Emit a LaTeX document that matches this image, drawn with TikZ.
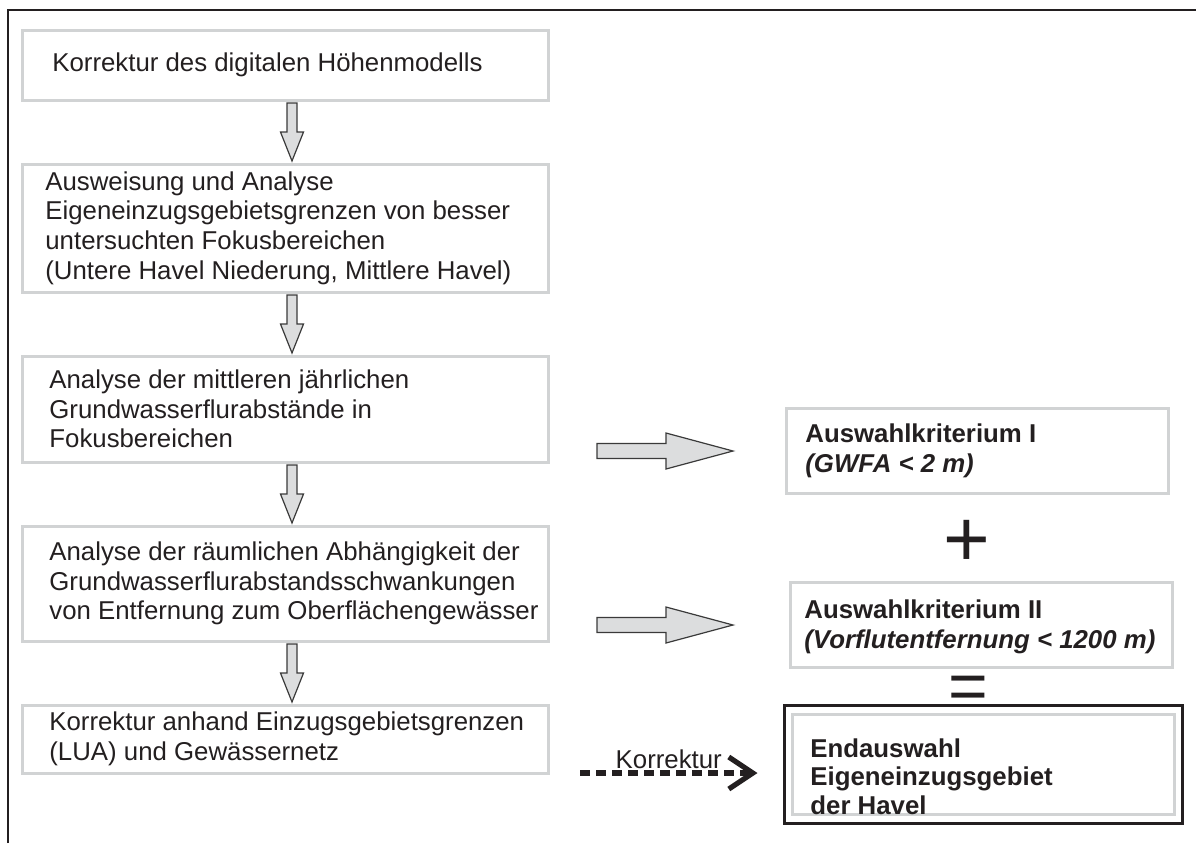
\documentclass[tikz,border=0pt]{standalone}
\usepackage{fontspec}
\setmainfont{Liberation Sans}
\usepackage{tikz}
\usetikzlibrary{positioning,arrows.meta,calc,fit}
\definecolor{inkdark}{HTML}{231F20}
\definecolor{boxgray}{HTML}{D1D3D4}
\definecolor{arrowfill}{HTML}{DCDDDE}
\definecolor{arrowline}{HTML}{3A3A3A}
\tikzset{
    every node/.style={font=\fontsize{12.9}{14.8}\selectfont,text=inkdark},
    stepbox/.style={draw=boxgray,line width=1.5pt,minimum width=263pt,outer sep=0pt,inner sep=0pt},
    steptext/.style={anchor=west,align=left,inner sep=0pt},
    critbox/.style={draw=boxgray,line width=1.5pt,minimum width=191pt,minimum height=42.5pt,outer sep=0pt,inner sep=0pt},
    crittext/.style={anchor=west,align=left,inner sep=0pt,font=\fontsize{12.9}{15}\selectfont\bfseries},
    fatarrow/.style={draw=arrowline,fill=arrowfill,line width=0.6pt,line join=miter},
    sign/.style={inner sep=0pt,font=\fontsize{40}{40}\selectfont},
    korrline/.style={draw=inkdark,line width=2.6pt,dash pattern=on 5pt off 3pt,
        -{Straight Barb[length=12pt,width=16pt,line cap=butt,line join=miter]}}
}
% block arrows between two boxes
\newcommand{\fatdown}[2]{%
    \coordinate (s) at ($(#1.south)+(7,3)$);
    \coordinate (e) at ($(#2.north)+(7,-3)$);
    \draw[fatarrow] ($(s)+(-5,0)$) -- ($(s)+(5,0)$) -- ($(e)+(5,-29)$) -- ($(e)+(11.5,-29)$)
        -- (e) -- ($(e)+(-11.5,-29)$) -- ($(e)+(-5,-29)$) -- cycle;}
\newcommand{\fatright}[2]{%
    \coordinate (s) at ($(#1.east |- #2.west)+(49,0)$);
    \draw[fatarrow] ($(s)+(0,-7.5)$) -- ($(s)+(69,-7.5)$) -- ($(s)+(69,-18)$) -- ($(s)+(136,0)$)
        -- ($(s)+(69,18)$) -- ($(s)+(69,7.5)$) -- ($(s)+(0,7.5)$) -- cycle;}

\begin{document}
\begin{tikzpicture}[x=0.5pt,y=-0.5pt,node distance=32pt]
    \useasboundingbox (0,0) rectangle (1196,843);
    \draw[inkdark,line width=1pt] (8,843) -- (8,10) -- (1196,10);

    % left column
    \node[stepbox,minimum height=35pt,anchor=north west] (korr) at (22,30) {};
    \node[stepbox,minimum height=64pt,below=of korr] (ausw) {};
    \node[stepbox,minimum height=53pt,below=of ausw] (gwfa) {};
    \node[stepbox,minimum height=57.5pt,below=of gwfa] (schw) {};
    \node[stepbox,minimum height=34pt,below=of schw] (lua) {};

    \node[steptext] (korr-t) at ($(korr.west)+(30,0)$) {Korrektur des digitalen Höhenmodells};
    \node[steptext] (ausw-t) at ($(ausw.west)+(23,0)$) {Ausweisung und Analyse\\Eigeneinzugsgebietsgrenzen von besser\\untersuchten Fokusbereichen\\(Untere Havel Niederung, Mittlere Havel)};
    \node[steptext] (gwfa-t) at ($(gwfa.west)+(27,0)$) {Analyse der mittleren jährlichen\\Grundwasserflurabstände in\\Fokusbereichen};
    \node[steptext] (schw-t) at ($(schw.west)+(27,0)$) {Analyse der räumlichen Abhängigkeit der\\Grundwasserflurabstandsschwankungen\\von Entfernung zum Oberflächengewässer};
    \node[steptext] (lua-t) at ($(lua.west)+(27,0)$) {Korrektur anhand Einzugsgebietsgrenzen\\(LUA) und Gewässernetz};

    \fatdown{korr}{ausw}
    \fatdown{ausw}{gwfa}
    \fatdown{gwfa}{schw}
    \fatdown{schw}{lua}

    % right column
    \node[critbox] (krit1) at (977,451) {};
    \node[critbox,below=44.5pt of krit1,xshift=2pt] (krit2) {};
    \node[critbox,minimum height=50pt] (endw) at (983,764.5) {};
    \node[draw=inkdark,line width=1.5pt,inner xsep=4pt,inner ysep=4.5pt,fit=(endw)] (endframe) {};

    \node[crittext] (krit1-t) at ($(krit1.west)+(19,0)$) {Auswahlkriterium I\\\textit{(GWFA < 2 m)}};
    \node[crittext] (krit2-t) at ($(krit2.west)+(14,2)$) {Auswahlkriterium II\\\textit{(Vorflutentfernung < 1200 m)}};
    \node[crittext,font=\fontsize{12.9}{14.3}\selectfont\bfseries] (endw-t) at ($(endw.west)+(18,12)$) {Endauswahl\\Eigeneinzugsgebiet\\der Havel};

    \node[sign] (plus) at (967,543) {+};
    \node[sign,font=\fontsize{34}{34}\selectfont] (equal) at (968,693) {=};

    \fatright{gwfa}{krit1}
    \fatright{schw}{krit2}

    \draw[korrline] ($(lua.south east)+(32,0)$) -- node[above,inner sep=1pt] (korr-l) {Korrektur} ($(lua.south east -| endframe.west)+(-25,0)$);
\end{tikzpicture}
\end{document}
